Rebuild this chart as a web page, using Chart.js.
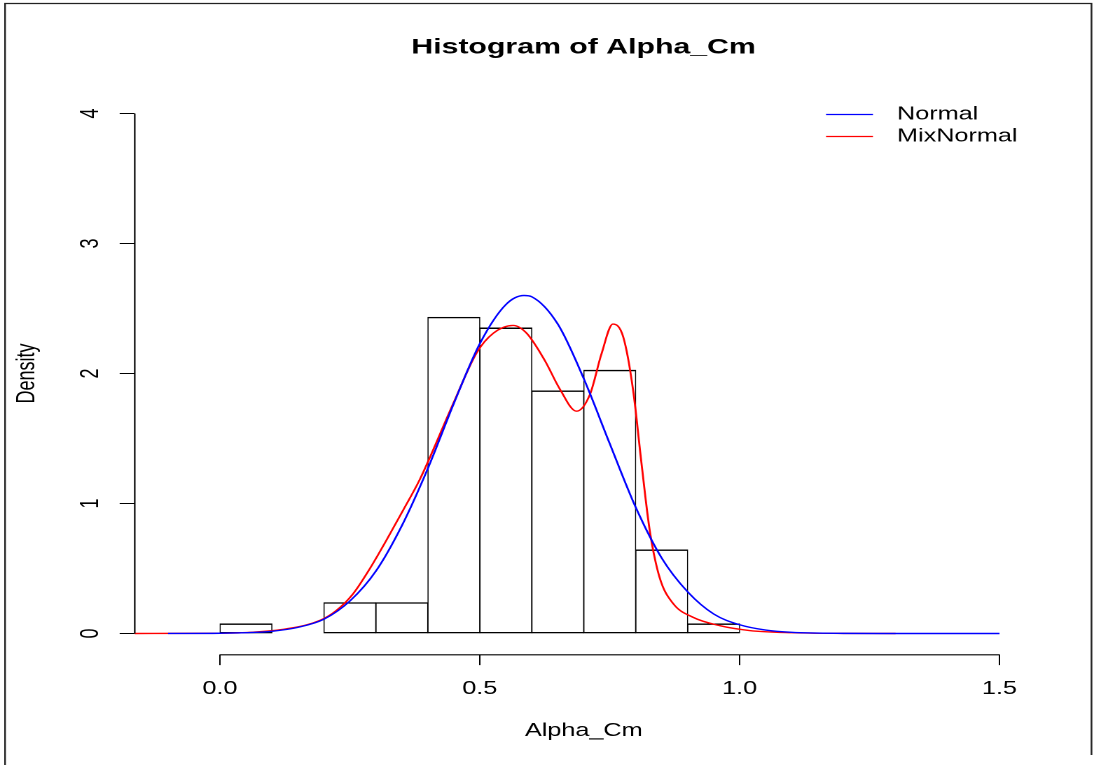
<!DOCTYPE html>
<html><head><meta charset="utf-8">
<script src="https://cdn.jsdelivr.net/npm/chart.js@4"></script>
<style>
html,body{margin:0;padding:0;background:#fff;overflow:hidden;}
#wrap{position:absolute;left:0;top:0;width:781px;height:765px;transform:scaleX(1.400768);transform-origin:0 0;}
</style></head><body>
<div id="wrap"><canvas id="c"></canvas></div>
<script>
// ---- data ----
const titleText = 'Histogram of Alpha_Cm';
const xTitle = 'Alpha_Cm';
const yTitle = 'Density';
const binCenters = [0.05, 0.15, 0.25, 0.35, 0.45, 0.55, 0.65, 0.75, 0.85, 0.95];
const binDensity = [0.075, 0, 0.238, 0.238, 2.433, 2.351, 1.867, 2.026, 0.644, 0.075];
const normX = [-0.1, 0, 0.05, 0.1, 0.15, 0.2, 0.25, 0.3, 0.35, 0.4, 0.45, 0.5, 0.55, 0.585, 0.6, 0.65, 0.7, 0.75, 0.8, 0.85, 0.9, 0.95, 1.0, 1.05, 1.1, 1.2, 1.3, 1.4, 1.5];
const normY = [0.0001, 0.002, 0.006, 0.017, 0.047, 0.11, 0.25, 0.48, 0.83, 1.27, 1.77, 2.23, 2.53, 2.60, 2.59, 2.38, 1.96, 1.46, 0.97, 0.58, 0.32, 0.15, 0.067, 0.026, 0.009, 0.001, 0, 0, 0];
const mixX = [-0.165, 0, 0.064, 0.128, 0.192, 0.224, 0.256, 0.2885, 0.3205, 0.3526, 0.3846, 0.449, 0.494, 0.526, 0.564, 0.59, 0.625, 0.654, 0.686, 0.712, 0.734, 0.756, 0.776, 0.795, 0.811, 0.827, 0.846, 0.872, 0.91, 0.962, 1.019, 1.1, 1.2, 1.3];
const mixY = [0, 0.002, 0.01, 0.036, 0.10, 0.177, 0.305, 0.50, 0.719, 0.95, 1.186, 1.77, 2.16, 2.31, 2.37, 2.31, 2.10, 1.88, 1.71, 1.84, 2.15, 2.38, 2.28, 1.87, 1.31, 0.79, 0.43, 0.23, 0.125, 0.06, 0.023, 0.006, 0.001, 0];
const seriesLabels = ['Normal', 'MixNormal'];
const xTicks = [0, 0.5, 1.0, 1.5];
const yTicks = [0, 1, 2, 3, 4];

// ---- styling ----
const FONT = '"Liberation Sans", Arial, Helvetica, sans-serif';
const f18 = {family: FONT, size: 18, lineHeight: 1.2};

const framePlugin = {
  id: 'frame',
  beforeDraw(chart) {
    const ctx = chart.ctx;
    ctx.save();
    ctx.strokeStyle = '#222';
    ctx.lineWidth = 1.2;
    ctx.beginPath();
    ctx.moveTo(3.6, 765); ctx.lineTo(3.6, 3.5); ctx.lineTo(779.2, 3.5); ctx.lineTo(779.2, 755);
    ctx.stroke();
    ctx.restore();
  }
};

const axisLinePlugin = {
  id: 'raxes',
  afterDatasetsDraw(chart) {
    const {ctx, scales: {x, y}, chartArea} = chart;
    ctx.save();
    ctx.strokeStyle = '#000';
    ctx.lineWidth = 1.1;
    ctx.beginPath();
    const yb = chartArea.bottom + 0.5;
    ctx.moveTo(x.getPixelForValue(xTicks[0]), yb);
    ctx.lineTo(x.getPixelForValue(xTicks[xTicks.length - 1]), yb);
    ctx.stroke();
    ctx.lineWidth = 1.1;
    ctx.beginPath();
    const xl = chartArea.left;
    ctx.moveTo(xl, y.getPixelForValue(yTicks[0]));
    ctx.lineTo(xl, y.getPixelForValue(yTicks[yTicks.length - 1]));
    ctx.stroke();
    ctx.restore();
  }
};

const LEG = {x0: 589.7, x1: 623.2, tx: 640.4, y0: 114.5, dy: 22};
const legendPlugin = {
  id: 'rlegend',
  afterDraw(chart) {
    const ctx = chart.ctx;
    ctx.save();
    ctx.font = '18px ' + FONT;
    ctx.textBaseline = 'middle';
    ctx.textAlign = 'left';
    chart.data.datasets.filter(d => d.type === 'line').forEach((d, i) => {
      const yy = LEG.y0 + i * LEG.dy;
      ctx.strokeStyle = d.borderColor;
      ctx.lineWidth = 1.2;
      ctx.beginPath(); ctx.moveTo(LEG.x0, yy); ctx.lineTo(LEG.x1, yy); ctx.stroke();
      ctx.fillStyle = '#000';
      ctx.fillText(d.label, LEG.tx, yy);
    });
    ctx.restore();
  }
};

new Chart(document.getElementById('c'), {
  type: 'line',
  data: {
    datasets: [
      {type: 'line', label: seriesLabels[0], data: normX.map((v, i) => ({x: v, y: normY[i]})),
       borderColor: '#0000ff', borderWidth: 1.4, pointRadius: 0, cubicInterpolationMode: 'monotone', fill: false, order: 1},
      {type: 'line', label: seriesLabels[1], data: mixX.map((v, i) => ({x: v, y: mixY[i]})),
       borderColor: '#ff0000', borderWidth: 1.4, pointRadius: 0, cubicInterpolationMode: 'monotone', fill: false, order: 2},
      {type: 'bar', label: 'hist', data: binCenters.map((v, i) => ({x: v, y: binDensity[i]})),
       backgroundColor: '#ffffff', borderColor: '#000000',
       borderWidth: {top: 1.4, bottom: 1.3, left: 0.8, right: 0.8}, borderSkipped: false,
       barPercentage: 1, categoryPercentage: 1, order: 3}
    ]
  },
  options: {
    responsive: true, maintainAspectRatio: false, animation: false, devicePixelRatio: 2,
    events: [],
    layout: {padding: {left: 52.2, right: 0, top: 0, bottom: 0}},
    plugins: {
      legend: {display: false},
      tooltip: {enabled: false},
      title: {display: true, text: titleText, color: '#000',
        font: {family: FONT, size: 21.6, weight: 'bold', lineHeight: 1.2},
        padding: {top: 34.8, bottom: 31.98}}
    },
    scales: {
      x: {
        type: 'linear', min: -0.164, max: 1.564, offset: false,
        afterFit(s) { s.height = 110.7; },
        afterBuildTicks(s) { s.ticks = xTicks.map(v => ({value: v})); },
        ticks: {callback: v => Number(v).toFixed(1), font: f18, color: '#000', padding: 13.1, maxRotation: 0, minRotation: 0, autoSkip: false},
        grid: {offset: false, drawOnChartArea: false, drawTicks: true, tickLength: 10.8, color: '#000', lineWidth: 1},
        border: {display: false},
        title: {display: true, text: xTitle, font: f18, color: '#000', padding: {top: 0, bottom: 23.2}}
      },
      y: {
        type: 'linear', min: -0.16, max: 4.16,
        afterFit(s) { s.width = 44.0; },
        afterBuildTicks(s) { s.ticks = yTicks.map(v => ({value: v})); },
        ticks: {callback: v => String(v), font: f18, color: '#000', padding: 15.4, minRotation: 90, maxRotation: 90, crossAlign: 'center', autoSkip: false},
        grid: {drawOnChartArea: false, drawTicks: true, tickLength: 10.8, color: '#000', lineWidth: 1},
        border: {display: false},
        title: {display: true, text: yTitle, font: f18, color: '#000', padding: {top: -43.7, bottom: 0}}
      },
      yRight: {
        type: 'linear', position: 'right', axis: 'y', display: true,
        afterFit(s) { s.width = 43.7; },
        ticks: {display: false},
        grid: {display: false},
        border: {display: false}
      }
    }
  },
  plugins: [framePlugin, axisLinePlugin, legendPlugin]
});
</script>
</body></html>
